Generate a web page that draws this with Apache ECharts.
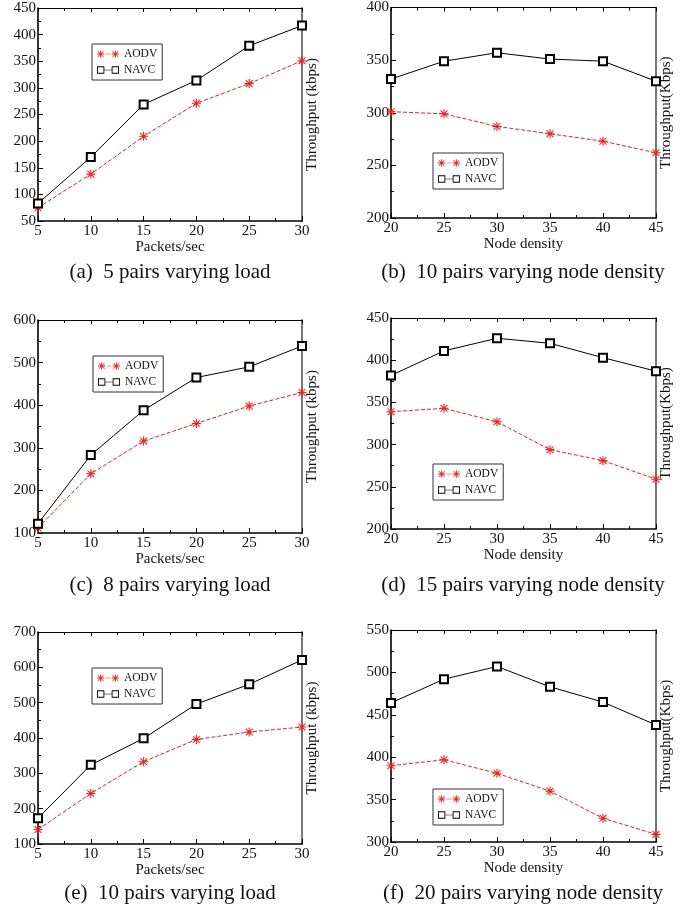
<!DOCTYPE html>
<html>
<head>
<meta charset="utf-8">
<script src="https://cdn.jsdelivr.net/npm/echarts@6/dist/echarts.min.js"></script>
<style>
html,body{margin:0;padding:0;background:#fff;}
#main{width:694px;height:911px;}
</style>
</head>
<body>
<div id="main"></div>
<script>
// ---- data ----
const xLoad = [5, 10, 15, 20, 25, 30];
const xDensity = [20, 25, 30, 35, 40, 45];

const aAODV = [75, 138, 209, 271, 308, 351];
const aNAVC = [83, 170, 269, 314, 379, 417];
const bAODV = [301, 299, 287, 280, 273, 262];
const bNAVC = [332, 349, 357, 351, 349, 330];
const cAODV = [112, 239, 316, 357, 398, 430];
const cNAVC = [122, 283, 388, 465, 490, 539];
const dAODV = [339, 343, 327, 294, 281, 259];
const dNAVC = [382, 411, 426, 420, 403, 387];
const eAODV = [141, 243, 333, 396, 417, 431];
const eNAVC = [173, 324, 399, 496, 552, 621];
const fAODV = [390, 397, 381, 360, 328, 309];
const fNAVC = [464, 492, 507, 483, 465, 438];

const yMin = [50, 200, 100, 200, 100, 300];
const yMax = [450, 400, 600, 450, 700, 550];
const yStep = [50, 50, 100, 50, 100, 50];

const captions = [
  '(a)  5 pairs varying load',
  '(b)  10 pairs varying node density',
  '(c)  8 pairs varying load',
  '(d)  15 pairs varying node density',
  '(e)  10 pairs varying load',
  '(f)  20 pairs varying node density'
];
const xNames = ['Packets/sec', 'Node density', 'Packets/sec', 'Node density', 'Packets/sec', 'Node density'];
const yNames = ['Throughput (kbps)', 'Throughput(Kbps)', 'Throughput (kbps)', 'Throughput(Kbps)', 'Throughput (kbps)', 'Throughput(Kbps)'];
const seriesNames = ['AODV', 'NAVC'];

// ---- layout (styles/positions) ----
const panels = [
  {xs: xLoad, aodv: aAODV, navc: aNAVC, grid: {left: 38, top: 8, width: 264, height: 213}, legend: {left: 92, top: 44}, cap: {x: 170, y: 272}},
  {xs: xDensity, aodv: bAODV, navc: bNAVC, grid: {left: 391, top: 6, width: 265, height: 212}, legend: {left: 433, top: 153}, cap: {x: 523, y: 272}},
  {xs: xLoad, aodv: cAODV, navc: cNAVC, grid: {left: 38, top: 320, width: 264, height: 213}, legend: {left: 93, top: 356}, cap: {x: 170, y: 585}},
  {xs: xDensity, aodv: dAODV, navc: dNAVC, grid: {left: 391, top: 318, width: 265, height: 211}, legend: {left: 433, top: 464}, cap: {x: 523, y: 585}},
  {xs: xLoad, aodv: eAODV, navc: eNAVC, grid: {left: 38, top: 632, width: 264, height: 212}, legend: {left: 92, top: 668}, cap: {x: 170, y: 893}},
  {xs: xDensity, aodv: fAODV, navc: fNAVC, grid: {left: 391, top: 630, width: 265, height: 212}, legend: {left: 433, top: 789}, cap: {x: 523, y: 893}}
];

function asterisk(ox) {
  return 'M' + ox + ',4.4 H' + (ox + 10) + ' V5.6 H' + ox + ' Z ' +
    'M' + (ox + 4.4) + ',0 H' + (ox + 5.6) + ' V10 H' + (ox + 4.4) + ' Z ' +
    'M' + (ox + 0.8) + ',1.6 L' + (ox + 1.6) + ',0.8 L' + (ox + 9.2) + ',8.4 L' + (ox + 8.4) + ',9.2 Z ' +
    'M' + (ox + 8.4) + ',0.8 L' + (ox + 9.2) + ',1.6 L' + (ox + 1.6) + ',9.2 L' + (ox + 0.8) + ',8.4 Z';
}
const starSymbol = 'path://' + asterisk(0);
const starLegend = 'path://' + asterisk(0) + ' M12,4.5 H18 V5.5 H12 Z ' + asterisk(20);
function hollowSq(ox) {
  return 'M' + ox + ',0 H' + (ox + 10) + ' V10 H' + ox + ' Z M' + (ox + 1.2) + ',1.2 V8.8 H' + (ox + 8.8) + ' V1.2 Z';
}
const sqLegend = 'path://' + hollowSq(0) + ' M10,4.6 H20 V5.4 H10 Z ' + hollowSq(20);

const FONT = "'Liberation Serif', 'DejaVu Serif', serif";
const TXT = '#111';

const grid = [], xAxis = [], yAxis = [], series = [], legend = [], graphic = [];

panels.forEach((p, i) => {
  grid.push(Object.assign({containLabel: false}, p.grid));
  const xMin = p.xs[0], xMax = p.xs[p.xs.length - 1];
  // bottom x axis
  xAxis.push({
    type: 'value', gridIndex: i, position: 'bottom', min: xMin, max: xMax, interval: 5,
    name: xNames[i], nameLocation: 'middle', nameGap: 10,
    nameTextStyle: {fontFamily: FONT, fontSize: 15, color: TXT},
    axisLine: {show: true, onZero: false, lineStyle: {color: '#000', width: 1.6}},
    axisTick: {show: true, inside: true, length: 5, lineStyle: {color: '#000', width: 1}},
    minorTick: {show: true, splitNumber: 2, length: 3, lineStyle: {color: '#000', width: 1}},
    axisLabel: {fontFamily: FONT, fontSize: 15, color: TXT, margin: 3},
    splitLine: {show: false}, minorSplitLine: {show: false}
  });
  // top mirror axis
  xAxis.push({
    type: 'value', gridIndex: i, position: 'top', min: xMin, max: xMax, interval: 5,
    axisLine: {show: true, onZero: false, lineStyle: {color: '#000', width: 1.2}},
    axisTick: {show: true, inside: true, length: 4, lineStyle: {color: '#000', width: 1}},
    minorTick: {show: true, splitNumber: 2, length: 3, lineStyle: {color: '#000', width: 1}},
    axisLabel: {show: false},
    splitLine: {show: false}, minorSplitLine: {show: false}
  });
  // left y axis
  yAxis.push({
    type: 'value', gridIndex: i, position: 'left', min: yMin[i], max: yMax[i], interval: yStep[i],
    axisLine: {show: true, onZero: false, lineStyle: {color: '#000', width: 1.6}},
    axisTick: {show: true, inside: true, length: 5, lineStyle: {color: '#000', width: 1}},
    minorTick: {show: true, splitNumber: 2, length: 3, lineStyle: {color: '#000', width: 1}},
    axisLabel: {fontFamily: FONT, fontSize: 15, color: TXT, margin: 2},
    splitLine: {show: false}, minorSplitLine: {show: false}
  });
  // right y axis (frame + name)
  yAxis.push({
    type: 'value', gridIndex: i, position: 'right', min: yMin[i], max: yMax[i], interval: yStep[i],
    name: yNames[i], nameLocation: 'middle', nameGap: 3, nameRotate: 90,
    nameTextStyle: {fontFamily: FONT, fontSize: 15, color: TXT},
    axisLine: {show: true, onZero: false, lineStyle: {color: '#777', width: 2}},
    axisTick: {show: false}, axisLabel: {show: false},
    splitLine: {show: false}, minorSplitLine: {show: false}
  });

  series.push({
    name: seriesNames[0], type: 'line', xAxisIndex: 2 * i, yAxisIndex: 2 * i,
    data: p.xs.map((x, k) => [x, p.aodv[k]]),
    symbol: starSymbol, symbolSize: 9, clip: false,
    itemStyle: {color: '#ff1a1a', borderWidth: 0},
    lineStyle: {color: '#ff1a1a', width: 1, type: [4, 2]},
    emphasis: {disabled: true}, z: 3
  });
  series.push({
    name: seriesNames[1], type: 'line', xAxisIndex: 2 * i, yAxisIndex: 2 * i,
    data: p.xs.map((x, k) => [x, p.navc[k]]),
    symbol: 'emptyRect', symbolSize: 8, clip: false,
    itemStyle: {color: '#000', borderWidth: 0.8},
    lineStyle: {color: '#000', width: 1},
    emphasis: {disabled: true}, z: 4
  });

  legend.push({
    left: p.legend.left, top: p.legend.top, orient: 'vertical',
    selectedMode: false,
    backgroundColor: '#fff', borderColor: '#333', borderWidth: 1,
    padding: [4, 5, 4, 5], itemGap: 4, itemWidth: 22, itemHeight: 7.5,
    textStyle: {fontFamily: FONT, fontSize: 11.5, color: TXT},
    itemStyle: {borderWidth: 0},
    data: [
      {name: seriesNames[0], icon: starLegend},
      {name: seriesNames[1], icon: sqLegend}
    ]
  });

  graphic.push({
    type: 'text', x: p.cap.x, y: p.cap.y,
    style: {text: captions[i], align: 'center', verticalAlign: 'middle',
      font: '21px ' + FONT, fill: TXT}
  });
});

const chart = echarts.init(document.getElementById('main'), null, {renderer: 'canvas'});
chart.setOption({
  animation: false,
  backgroundColor: '#fff',
  grid, xAxis, yAxis, series, legend, graphic
});
</script>
</body>
</html>
